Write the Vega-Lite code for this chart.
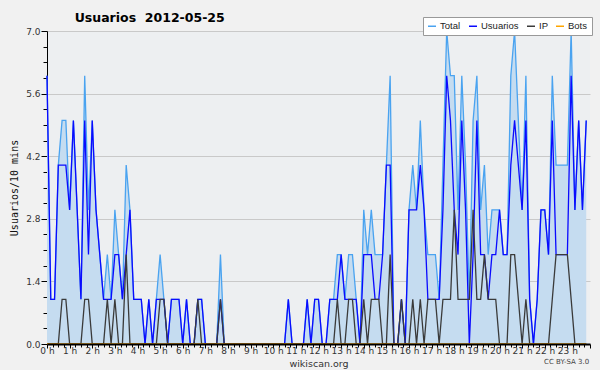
{
  "$schema": "https://vega.github.io/schema/vega-lite/v6.json",
  "width": 543,
  "height": 313,
  "autosize": {"type": "none"},
  "padding": {"left": 47, "top": 31, "right": 10, "bottom": 26},
  "background": "#f1f1f1",
  "title": {"text": "Usuarios\u00a0 2012-05-25", "anchor": "start", "dx": 65, "dy": 8, "offset": 0, "font": "DejaVu Sans", "fontSize": 12.5, "fontWeight": "bold", "color": "#000000"},
  "config": {
    "view": {"fill": "#edeff1", "stroke": null},
    "legend": {
      "orient": "none", "legendX": 376, "legendY": -14, "direction": "horizontal",
      "symbolType": "stroke", "symbolStrokeWidth": 1.5, "symbolSize": 64,
      "labelFont": "Liberation Sans", "labelFontSize": 9.5, "labelColor": "#222222", "labelOffset": 3,
      "fillColor": "#ffffff", "strokeColor": "#999999", "padding": 4, "columnPadding": 5
    }
  },
  "data": {"values": [
    {"m":0,"Total":6,"Usuarios":6,"IP":0,"Bots":0},
    {"m":10,"Total":1,"Usuarios":1,"IP":0,"Bots":0},
    {"m":20,"Total":1,"Usuarios":1,"IP":0,"Bots":0},
    {"m":30,"Total":4,"Usuarios":4,"IP":0,"Bots":0},
    {"m":40,"Total":5,"Usuarios":4,"IP":1,"Bots":0},
    {"m":50,"Total":5,"Usuarios":4,"IP":1,"Bots":0},
    {"m":60,"Total":3,"Usuarios":3,"IP":0,"Bots":0},
    {"m":70,"Total":5,"Usuarios":5,"IP":0,"Bots":0},
    {"m":80,"Total":3,"Usuarios":3,"IP":0,"Bots":0},
    {"m":90,"Total":1,"Usuarios":1,"IP":0,"Bots":0},
    {"m":100,"Total":6,"Usuarios":5,"IP":1,"Bots":0},
    {"m":110,"Total":3,"Usuarios":2,"IP":1,"Bots":0},
    {"m":120,"Total":5,"Usuarios":5,"IP":0,"Bots":0},
    {"m":130,"Total":3,"Usuarios":3,"IP":0,"Bots":0},
    {"m":140,"Total":2,"Usuarios":2,"IP":0,"Bots":0},
    {"m":150,"Total":1,"Usuarios":1,"IP":0,"Bots":0},
    {"m":160,"Total":2,"Usuarios":1,"IP":1,"Bots":0},
    {"m":170,"Total":1,"Usuarios":1,"IP":0,"Bots":0},
    {"m":180,"Total":3,"Usuarios":2,"IP":1,"Bots":0},
    {"m":190,"Total":2,"Usuarios":2,"IP":0,"Bots":0},
    {"m":200,"Total":1,"Usuarios":1,"IP":0,"Bots":0},
    {"m":210,"Total":4,"Usuarios":2,"IP":2,"Bots":0},
    {"m":220,"Total":3,"Usuarios":3,"IP":0,"Bots":0},
    {"m":230,"Total":1,"Usuarios":1,"IP":0,"Bots":0},
    {"m":240,"Total":1,"Usuarios":1,"IP":0,"Bots":0},
    {"m":250,"Total":1,"Usuarios":1,"IP":0,"Bots":0},
    {"m":260,"Total":0,"Usuarios":0,"IP":0,"Bots":0},
    {"m":270,"Total":1,"Usuarios":1,"IP":0,"Bots":0},
    {"m":280,"Total":0,"Usuarios":0,"IP":0,"Bots":0},
    {"m":290,"Total":1,"Usuarios":1,"IP":0,"Bots":0},
    {"m":300,"Total":2,"Usuarios":1,"IP":1,"Bots":0},
    {"m":310,"Total":1,"Usuarios":1,"IP":1,"Bots":0},
    {"m":320,"Total":0,"Usuarios":0,"IP":0,"Bots":0},
    {"m":330,"Total":1,"Usuarios":1,"IP":0,"Bots":0},
    {"m":340,"Total":1,"Usuarios":1,"IP":0,"Bots":0},
    {"m":350,"Total":1,"Usuarios":1,"IP":0,"Bots":0},
    {"m":360,"Total":0,"Usuarios":0,"IP":0,"Bots":0},
    {"m":370,"Total":1,"Usuarios":1,"IP":0,"Bots":0},
    {"m":380,"Total":0,"Usuarios":0,"IP":0,"Bots":0},
    {"m":390,"Total":0,"Usuarios":0,"IP":0,"Bots":0},
    {"m":400,"Total":1,"Usuarios":1,"IP":1,"Bots":0},
    {"m":410,"Total":1,"Usuarios":1,"IP":0,"Bots":0},
    {"m":420,"Total":0,"Usuarios":0,"IP":0,"Bots":0},
    {"m":430,"Total":0,"Usuarios":0,"IP":0,"Bots":0},
    {"m":440,"Total":0,"Usuarios":0,"IP":0,"Bots":0},
    {"m":450,"Total":0,"Usuarios":0,"IP":0,"Bots":0},
    {"m":460,"Total":2,"Usuarios":1,"IP":1,"Bots":0},
    {"m":470,"Total":0,"Usuarios":0,"IP":0,"Bots":0},
    {"m":480,"Total":0,"Usuarios":0,"IP":0,"Bots":0},
    {"m":490,"Total":0,"Usuarios":0,"IP":0,"Bots":0},
    {"m":500,"Total":0,"Usuarios":0,"IP":0,"Bots":0},
    {"m":510,"Total":0,"Usuarios":0,"IP":0,"Bots":0},
    {"m":520,"Total":0,"Usuarios":0,"IP":0,"Bots":0},
    {"m":530,"Total":0,"Usuarios":0,"IP":0,"Bots":0},
    {"m":540,"Total":0,"Usuarios":0,"IP":0,"Bots":0},
    {"m":550,"Total":0,"Usuarios":0,"IP":0,"Bots":0},
    {"m":560,"Total":0,"Usuarios":0,"IP":0,"Bots":0},
    {"m":570,"Total":0,"Usuarios":0,"IP":0,"Bots":0},
    {"m":580,"Total":0,"Usuarios":0,"IP":0,"Bots":0},
    {"m":590,"Total":0,"Usuarios":0,"IP":0,"Bots":0},
    {"m":600,"Total":0,"Usuarios":0,"IP":0,"Bots":0},
    {"m":610,"Total":0,"Usuarios":0,"IP":0,"Bots":0},
    {"m":620,"Total":0,"Usuarios":0,"IP":0,"Bots":0},
    {"m":630,"Total":0,"Usuarios":0,"IP":0,"Bots":0},
    {"m":640,"Total":1,"Usuarios":1,"IP":0,"Bots":0},
    {"m":650,"Total":0,"Usuarios":0,"IP":0,"Bots":0},
    {"m":660,"Total":0,"Usuarios":0,"IP":0,"Bots":0},
    {"m":670,"Total":0,"Usuarios":0,"IP":0,"Bots":0},
    {"m":680,"Total":0,"Usuarios":0,"IP":0,"Bots":0},
    {"m":690,"Total":1,"Usuarios":1,"IP":0,"Bots":0},
    {"m":700,"Total":0,"Usuarios":0,"IP":0,"Bots":0},
    {"m":710,"Total":1,"Usuarios":1,"IP":0,"Bots":0},
    {"m":720,"Total":1,"Usuarios":1,"IP":0,"Bots":0},
    {"m":730,"Total":0,"Usuarios":0,"IP":0,"Bots":0},
    {"m":740,"Total":0,"Usuarios":0,"IP":0,"Bots":0},
    {"m":750,"Total":1,"Usuarios":1,"IP":0,"Bots":0},
    {"m":760,"Total":1,"Usuarios":1,"IP":0,"Bots":0},
    {"m":770,"Total":2,"Usuarios":1,"IP":1,"Bots":0},
    {"m":780,"Total":2,"Usuarios":2,"IP":0,"Bots":0},
    {"m":790,"Total":1,"Usuarios":1,"IP":0,"Bots":0},
    {"m":800,"Total":2,"Usuarios":1,"IP":1,"Bots":0},
    {"m":810,"Total":2,"Usuarios":1,"IP":1,"Bots":0},
    {"m":820,"Total":1,"Usuarios":1,"IP":0,"Bots":0},
    {"m":830,"Total":0,"Usuarios":0,"IP":0,"Bots":0},
    {"m":840,"Total":3,"Usuarios":2,"IP":1,"Bots":0},
    {"m":850,"Total":2,"Usuarios":2,"IP":0,"Bots":0},
    {"m":860,"Total":3,"Usuarios":2,"IP":1,"Bots":0},
    {"m":870,"Total":2,"Usuarios":1,"IP":1,"Bots":0},
    {"m":880,"Total":2,"Usuarios":1,"IP":1,"Bots":0},
    {"m":890,"Total":2,"Usuarios":2,"IP":0,"Bots":0},
    {"m":900,"Total":4,"Usuarios":4,"IP":0,"Bots":0},
    {"m":910,"Total":6,"Usuarios":4,"IP":2,"Bots":0},
    {"m":920,"Total":0,"Usuarios":0,"IP":0,"Bots":0},
    {"m":930,"Total":0,"Usuarios":0,"IP":0,"Bots":0},
    {"m":940,"Total":1,"Usuarios":1,"IP":1,"Bots":0},
    {"m":950,"Total":0,"Usuarios":0,"IP":0,"Bots":0},
    {"m":960,"Total":3,"Usuarios":3,"IP":0,"Bots":0},
    {"m":970,"Total":4,"Usuarios":3,"IP":1,"Bots":0},
    {"m":980,"Total":3,"Usuarios":3,"IP":0,"Bots":0},
    {"m":990,"Total":5,"Usuarios":4,"IP":1,"Bots":0},
    {"m":1000,"Total":3,"Usuarios":3,"IP":0,"Bots":0},
    {"m":1010,"Total":2,"Usuarios":1,"IP":1,"Bots":0},
    {"m":1020,"Total":2,"Usuarios":1,"IP":1,"Bots":0},
    {"m":1030,"Total":2,"Usuarios":1,"IP":1,"Bots":0},
    {"m":1040,"Total":1,"Usuarios":1,"IP":0,"Bots":0},
    {"m":1050,"Total":4,"Usuarios":3,"IP":1,"Bots":0},
    {"m":1060,"Total":7,"Usuarios":6,"IP":1,"Bots":0},
    {"m":1070,"Total":6,"Usuarios":5,"IP":1,"Bots":0},
    {"m":1080,"Total":6,"Usuarios":3,"IP":3,"Bots":0},
    {"m":1090,"Total":3,"Usuarios":2,"IP":1,"Bots":0},
    {"m":1100,"Total":6,"Usuarios":5,"IP":1,"Bots":0},
    {"m":1110,"Total":4,"Usuarios":3,"IP":1,"Bots":0},
    {"m":1120,"Total":1,"Usuarios":0,"IP":1,"Bots":0},
    {"m":1130,"Total":5,"Usuarios":2,"IP":3,"Bots":0},
    {"m":1140,"Total":6,"Usuarios":5,"IP":1,"Bots":0},
    {"m":1150,"Total":3,"Usuarios":2,"IP":1,"Bots":0},
    {"m":1160,"Total":4,"Usuarios":2,"IP":2,"Bots":0},
    {"m":1170,"Total":2,"Usuarios":1,"IP":1,"Bots":0},
    {"m":1180,"Total":3,"Usuarios":2,"IP":1,"Bots":0},
    {"m":1190,"Total":3,"Usuarios":2,"IP":1,"Bots":0},
    {"m":1200,"Total":3,"Usuarios":3,"IP":0,"Bots":0},
    {"m":1210,"Total":2,"Usuarios":2,"IP":0,"Bots":0},
    {"m":1220,"Total":2,"Usuarios":2,"IP":0,"Bots":0},
    {"m":1230,"Total":6,"Usuarios":4,"IP":2,"Bots":0},
    {"m":1240,"Total":7,"Usuarios":5,"IP":2,"Bots":0},
    {"m":1250,"Total":5,"Usuarios":4,"IP":1,"Bots":0},
    {"m":1260,"Total":3,"Usuarios":3,"IP":0,"Bots":0},
    {"m":1270,"Total":6,"Usuarios":5,"IP":1,"Bots":0},
    {"m":1280,"Total":1,"Usuarios":1,"IP":0,"Bots":0},
    {"m":1290,"Total":0,"Usuarios":0,"IP":0,"Bots":0},
    {"m":1300,"Total":1,"Usuarios":1,"IP":0,"Bots":0},
    {"m":1310,"Total":3,"Usuarios":3,"IP":0,"Bots":0},
    {"m":1320,"Total":3,"Usuarios":3,"IP":0,"Bots":0},
    {"m":1330,"Total":2,"Usuarios":2,"IP":0,"Bots":0},
    {"m":1340,"Total":6,"Usuarios":5,"IP":1,"Bots":0},
    {"m":1350,"Total":4,"Usuarios":2,"IP":2,"Bots":0},
    {"m":1360,"Total":4,"Usuarios":2,"IP":2,"Bots":0},
    {"m":1370,"Total":4,"Usuarios":2,"IP":2,"Bots":0},
    {"m":1380,"Total":4,"Usuarios":2,"IP":2,"Bots":0},
    {"m":1390,"Total":7,"Usuarios":6,"IP":1,"Bots":0},
    {"m":1400,"Total":3,"Usuarios":3,"IP":0,"Bots":0},
    {"m":1410,"Total":5,"Usuarios":5,"IP":0,"Bots":0},
    {"m":1420,"Total":3,"Usuarios":3,"IP":0,"Bots":0},
    {"m":1430,"Total":5,"Usuarios":5,"IP":0,"Bots":0}
  ]},
  "transform": [{"fold": ["Total", "Usuarios", "IP", "Bots"], "as": ["serie", "valor"]}],
  "encoding": {
    "x": {
      "field": "m", "type": "quantitative",
      "scale": {"domain": [0, 1440], "nice": false, "zero": false},
      "axis": {
        "title": "wikiscan.org", "titleFont": "DejaVu Sans", "titleFontSize": 9.5, "titleFontWeight": "normal", "titleColor": "#333333",
        "titleY": 22, "titleBaseline": "alphabetic",
        "values": [0,15,30,45,60,75,90,105,120,135,150,165,180,195,210,225,240,255,270,285,300,315,330,345,360,375,390,405,420,435,450,465,480,495,510,525,540,555,570,585,600,615,630,645,660,675,690,705,720,735,750,765,780,795,810,825,840,855,870,885,900,915,930,945,960,975,990,1005,1020,1035,1050,1065,1080,1095,1110,1125,1140,1155,1170,1185,1200,1215,1230,1245,1260,1275,1290,1305,1320,1335,1350,1365,1380,1395,1410,1425,1440],
        "labelExpr": "(datum.value % 60 == 0 && datum.value < 1440) ? (datum.value / 60) + ' h' : ''",
        "labelFont": "DejaVu Sans", "labelFontSize": 9, "labelColor": "#333333", "labelPadding": -2, "labelFlush": false, "labelOverlap": false,
        "tickSize": {"condition": {"test": "datum.value % 60 == 0", "value": 4}, "value": 3},
        "tickColor": "#000000", "tickWidth": 1,
        "domainColor": "#000000", "domainWidth": 2,
        "grid": false, "zindex": 1
      }
    },
    "y": {
      "field": "valor", "type": "quantitative",
      "scale": {"domain": [0, 7], "nice": false},
      "axis": {
        "title": "Usuarios/10 mins", "titleFont": "DejaVu Sans Mono", "titleFontSize": 10, "titleFontWeight": "normal", "titleColor": "#111111", "titlePadding": 6,
        "values": [0,0.35,0.7,1.05,1.4,1.75,2.1,2.45,2.8,3.15,3.5,3.85,4.2,4.55,4.9,5.25,5.6,5.95,6.3,6.65,7],
        "labelExpr": "abs(datum.value / 1.4 - round(datum.value / 1.4)) < 0.01 ? format(datum.value, '.1f') : ''",
        "labelFont": "DejaVu Sans", "labelFontSize": 9, "labelColor": "#333333", "labelPadding": 1, "labelFlush": false, "labelOverlap": false,
        "tickSize": {"condition": {"test": "abs(datum.value / 1.4 - round(datum.value / 1.4)) < 0.01", "value": 6}, "value": 4},
        "tickColor": "#000000",
        "domainColor": "#000000", "domainWidth": 1,
        "grid": true, "gridColor": "#c9c9c9", "gridWidth": 1,
        "gridOpacity": {"condition": {"test": "abs(datum.value / 1.4 - round(datum.value / 1.4)) < 0.01 && datum.value > 0", "value": 1}, "value": 0}
      }
    }
  },
  "layer": [
    {
      "transform": [{"filter": "datum.serie == 'Total'"}],
      "mark": {"type": "area", "color": "#c5dcf0", "opacity": 1},
      "encoding": {}
    },
    {
      "mark": {"type": "line", "strokeWidth": 1.3},
      "encoding": {
        "color": {
          "field": "serie", "type": "nominal", "title": null,
          "scale": {"domain": ["Total", "Usuarios", "IP", "Bots"], "range": ["#4aa3f0", "#0a0aff", "#3a3a3a", "#ffa500"]},
          "sort": ["Total", "Usuarios", "IP", "Bots"]
        }
      }
    },
    {
      "transform": [{"filter": "datum.m == 1430 && datum.serie == 'Bots'"}],
      "mark": {"type": "text", "text": "CC BY-SA 3.0", "align": "right", "baseline": "middle", "dy": 18, "dx": 3, "font": "DejaVu Sans", "fontSize": 7, "color": "#444444"},
      "encoding": {}
    }
  ]
}
